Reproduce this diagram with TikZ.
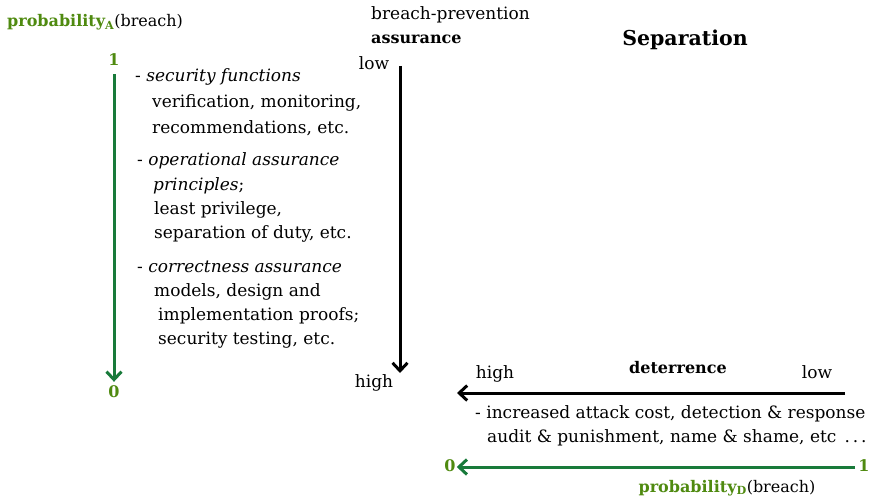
\documentclass[tikz,border=0pt]{standalone}
\usepackage{fontspec}
\setmainfont{DejaVu Serif}
\usetikzlibrary{arrows.meta}

\definecolor{probgreen}{RGB}{79,138,16}
\definecolor{axisgreen}{RGB}{24,122,58}

\begin{document}
\begin{tikzpicture}[x=1pt,y=-1pt,>={Straight Barb[length=8pt,width=15pt]},
  txt/.style={anchor=west,inner sep=0pt,text height=12pt,text depth=4pt,font=\fontsize{17}{20}\selectfont},
  mid/.style={txt,anchor=center},
  bold/.style={font=\fontsize{16}{20}\selectfont\bfseries},
  prob/.style={mid,bold,text=probgreen},
  axis/.style={->,line width=3pt},
  paxis/.style={axis,draw=axisgreen}]
  \useasboundingbox (0,0) rectangle (872,500);

  % probability of a breach, assurance side
  \node[txt,bold] (pA) at (7,23) {\textcolor{probgreen}{probability\textsubscript{A}}\mdseries(breach)};
  \node[prob] (pAone) at (114,62) {1};
  \node[prob] (pAzero) at (114,393) {0};
  \draw[paxis] ([yshift=-4pt]pAone.south) -- ([yshift=3pt]pAzero.north);

  % assurance measures
  \node[txt] (sf) at (135,78) {- \textit{security functions}};
  \node[txt] (sf1) at (152,103) {verification, monitoring,};
  \node[txt] (sf2) at (152,129) {recommendations, etc.};
  \node[txt] (op) at (137,161) {- \textit{operational assurance}};
  \node[txt] (op1) at (153,186) {\textit{principles};};
  \node[txt] (op2) at (154,210) {least privilege,};
  \node[txt] (op3) at (154,234) {separation of duty, etc.};
  \node[txt] (ca) at (137,268) {- \textit{correctness assurance}};
  \node[txt] (ca1) at (154,292) {models, design and};
  \node[txt] (ca2) at (158,316) {implementation proofs;};
  \node[txt] (ca3) at (158,340) {security testing, etc.};

  % assurance axis
  \node[txt] (bp) at (371,16) {breach-prevention};
  \node[txt,bold] (asr) at (371,40) {assurance};
  \node[mid] (alow) at (374,66) {low};
  \node[mid] (ahigh) at (374,383) {high};
  \coordinate (atop) at (400,66);
  \coordinate (abot) at (400,373);
  \draw[axis] (atop) -- (abot);

  \node[mid,font=\fontsize{20.5}{26}\selectfont\bfseries] (title) at (685,42) {Separation};

  % deterrence axis
  \node[mid] (dhigh) at (495,374) {high};
  \node[mid,bold] (det) at (678,369) {deterrence};
  \node[mid] (dlow) at (817,374) {low};
  \coordinate (dright) at (845,393);
  \coordinate (dleft) at (457,393);
  \draw[axis] (dright) -- (dleft);
  \node[txt] (dm1) at (475,414) {- increased attack cost, detection \& response};
  \node[txt] (dm2) at (487,438) {audit \& punishment, name \& shame, etc \,.\,.\,.};

  % probability of a breach, deterrence side
  \node[prob] (pDone) at (864,467) {1};
  \node[prob] (pDzero) at (450,467) {0};
  \draw[paxis] ([xshift=-3pt]pDone.west) -- ([xshift=1pt]pDzero.east);
  \node[mid,bold] (pD) at (727,488) {\textcolor{probgreen}{probability\textsubscript{D}}\mdseries(breach)};
\end{tikzpicture}
\end{document}
